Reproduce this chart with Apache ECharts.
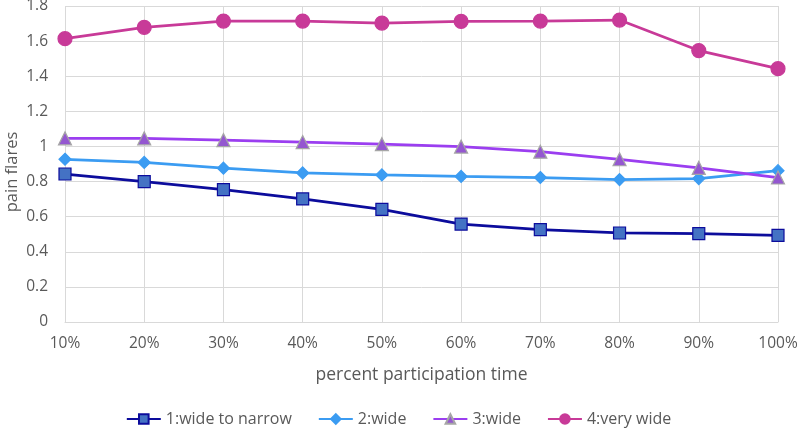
<!DOCTYPE html>
<html>
<head>
<meta charset="utf-8">
<script src="https://cdn.jsdelivr.net/npm/echarts@6/dist/echarts.min.js"></script>
<style>
  html, body { margin: 0; padding: 0; background: #fff; }
  #chart { width: 797px; height: 435px; }
</style>
</head>
<body>
<div id="chart"></div>
<script>
// data
const categories = ["10%", "20%", "30%", "40%", "50%", "60%", "70%", "80%", "90%", "100%"];
const wideToNarrow = [0.843, 0.800, 0.754, 0.701, 0.642, 0.558, 0.526, 0.507, 0.503, 0.493];
const wide2 = [0.927, 0.909, 0.876, 0.849, 0.838, 0.829, 0.823, 0.811, 0.817, 0.862];
const wide3 = [1.046, 1.046, 1.036, 1.025, 1.013, 0.999, 0.970, 0.927, 0.878, 0.823];
const veryWide = [1.614, 1.678, 1.714, 1.714, 1.703, 1.712, 1.714, 1.720, 1.546, 1.443];
const yTicks = { min: 0, max: 1.8, interval: 0.2 };

const font = "'Open Sans', 'Liberation Sans', sans-serif";
const textColor = "#595959";

const chart = echarts.init(document.getElementById("chart"), null, { renderer: "canvas" });

// small helper so the four series look alike
const makeSeries = (name, data, lineColor, fill, border, symbol, size) => ({
  name,
  type: "line",
  data,
  symbol,
  symbolSize: size,
  showAllSymbol: true,
  lineStyle: { color: lineColor, width: 2.75 },
  itemStyle: { color: fill, borderColor: border, borderWidth: 1.2 },
  emphasis: { disabled: true },
});

chart.setOption({
  animation: false,
  textStyle: { fontFamily: font },
  grid: { left: 65, right: 19, top: 6, bottom: 113, containLabel: false, outerBoundsMode: "none" },
  legend: {
    bottom: 3,
    left: "center",
    itemWidth: 34,
    itemHeight: 12,
    itemGap: 26,
    textStyle: { color: textColor, fontSize: 16, fontFamily: font },
    data: ["1:wide to narrow", "2:wide", "3:wide", "4:very wide"],
  },
  xAxis: {
    type: "category",
    data: categories,
    boundaryGap: false,
    name: "percent participation time",
    nameLocation: "middle",
    nameGap: 44,
    nameTextStyle: { color: textColor, fontSize: 17.5, fontFamily: font },
    axisLine: { lineStyle: { color: "#d9d9d9", width: 1 } },
    axisTick: { show: false },
    axisLabel: { color: textColor, fontSize: 15.5, margin: 14 },
    splitLine: { show: true, lineStyle: { color: "#d9d9d9", width: 1 } },
  },
  yAxis: {
    type: "value",
    min: yTicks.min,
    max: yTicks.max,
    interval: yTicks.interval,
    name: "pain flares",
    nameLocation: "middle",
    nameGap: 44,
    nameMoveOverlap: false,
    nameTextStyle: { color: textColor, fontSize: 16.5, fontFamily: font, padding: [0, 16, 0, 0] },
    axisLine: { show: false },
    axisTick: { show: false },
    axisLabel: {
      color: textColor,
      fontSize: 15.5,
      margin: 17,
      formatter: (v) => String(Math.round(v * 10) / 10),
    },
    splitLine: { lineStyle: { color: "#d9d9d9", width: 1 } },
  },
  series: [
    makeSeries("1:wide to narrow", wideToNarrow, "#0c0c9c", "#4472c4", "#0c0c9c", "rect", 12),
    makeSeries("2:wide", wide2, "#3b9cf2", "#3b9cf2", "#3b9cf2", "diamond", 12),
    makeSeries("3:wide", wide3, "#9b3ef0", "#9457d0", "#a6a6a6", "triangle", 13),
    makeSeries("4:very wide", veryWide, "#c83a98", "#c83a98", "#c83a98", "circle", 14),
  ],
});
</script>
</body>
</html>
